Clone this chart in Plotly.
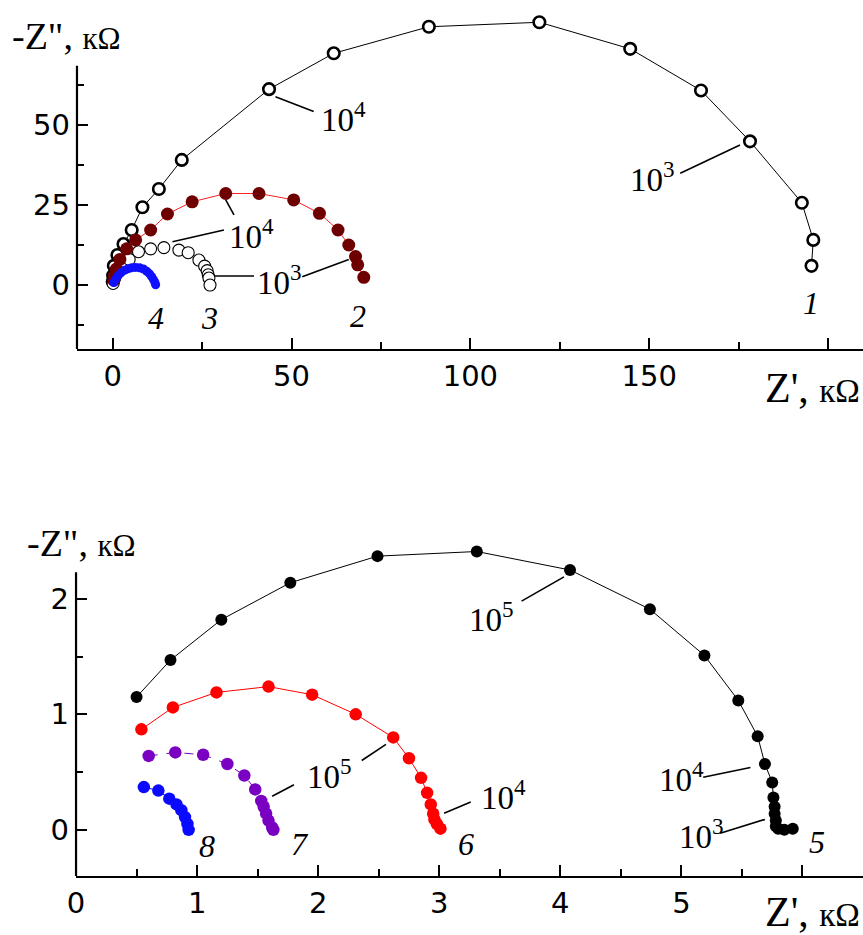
import plotly.graph_objects as go

# ---------------- Top chart data (Z', -Z'' in kOhm) ----------------
s1_x = [0.0, 0.1, 0.3, 1.3, 3.0, 5.3, 8.3, 12.9, 19.3, 43.7, 61.8, 88.4, 119.3, 144.7, 164.5, 178.2, 192.7, 195.9, 195.4]
s1_y = [1.0, 3.0, 6.0, 9.4, 12.8, 17.2, 24.3, 30.0, 39.1, 61.2, 72.4, 80.7, 82.1, 73.8, 60.8, 44.9, 25.7, 14.1, 6.0]

s2_x = [0.3, 0.5, 1.0, 2.0, 3.9, 6.4, 10.6, 15.3, 22.2, 31.6, 40.9, 50.6, 57.8, 63.0, 66.0, 67.9, 68.5, 70.2]
s2_y = [1.5, 3.0, 5.0, 8.0, 11.3, 14.1, 17.2, 22.2, 26.0, 28.6, 28.6, 26.6, 22.4, 17.2, 12.5, 8.9, 6.3, 2.4]

s3_x = [0.1, 0.5, 1.2, 2.6, 4.6, 7.2, 10.6, 14.3, 18.5, 21.1, 24.1, 25.7, 26.4, 26.7, 26.9, 27.2]
s3_y = [0.5, 2.0, 3.8, 6.0, 8.0, 10.4, 11.3, 11.7, 10.9, 10.1, 7.8, 5.9, 4.5, 3.2, 2.2, 0.0]

s4_x = [0.3, 0.8, 1.5, 2.3, 3.3, 4.3, 5.3, 6.4, 7.5, 8.6, 9.5, 10.3, 10.9, 11.4, 11.8, 12.0]
s4_y = [0.8, 1.8, 2.9, 3.8, 4.6, 5.1, 5.4, 5.5, 5.4, 5.0, 4.3, 3.5, 2.6, 1.7, 0.8, 0.1]

# ---------------- Bottom chart data ----------------
s5_x = [0.50, 0.78, 1.20, 1.77, 2.49, 3.31, 4.08, 4.74, 5.19, 5.47, 5.63, 5.69, 5.75, 5.76, 5.77, 5.77, 5.78, 5.78, 5.80, 5.85, 5.92]
s5_y = [1.15, 1.47, 1.82, 2.14, 2.37, 2.41, 2.25, 1.91, 1.51, 1.12, 0.81, 0.57, 0.41, 0.28, 0.20, 0.14, 0.08, 0.03, 0.01, 0.00, 0.01]

s6_x = [0.54, 0.80, 1.16, 1.59, 1.95, 2.31, 2.62, 2.75, 2.85, 2.90, 2.93, 2.95, 2.96, 2.98, 3.01]
s6_y = [0.87, 1.06, 1.19, 1.24, 1.17, 1.00, 0.80, 0.62, 0.45, 0.32, 0.22, 0.14, 0.09, 0.05, 0.01]

s7_x = [0.60, 0.82, 1.05, 1.25, 1.39, 1.48, 1.53, 1.55, 1.57, 1.59, 1.62, 1.63]
s7_y = [0.64, 0.67, 0.65, 0.57, 0.47, 0.35, 0.25, 0.20, 0.14, 0.08, 0.02, 0.00]

s8_x = [0.56, 0.68, 0.77, 0.83, 0.87, 0.90, 0.92, 0.93]
s8_y = [0.37, 0.34, 0.27, 0.22, 0.17, 0.11, 0.05, 0.00]

# axis ticks
top_x_ticks = [0, 50, 100, 150, 200]
top_x_labels = ["0", "50", "100", "150", ""]
top_y_ticks = [0, 25, 50]
top_y_minor = [-12.5, 12.5, 37.5, 62.5]
bot_x_ticks = [0, 1, 2, 3, 4, 5, 6]
bot_x_labels = ["0", "1", "2", "3", "4", "5", ""]
bot_y_ticks = [0, 1, 2]
bot_y_minor = [0.5, 1.5]

# curve numbers
top_num_text = ["1", "2", "3", "4"]
top_num_x = [195.3, 68.7, 27.1, 12.0]
top_num_y = [-5.6, -9.7, -10.3, -10.3]
bot_num_text = ["5", "6", "7", "8"]
bot_num_x = [6.12, 3.22, 1.85, 1.085]
bot_num_y = [-0.107, -0.12, -0.12, -0.136]

# frequency labels (text, x, y) and leader lines (x0, y0, x1, y1)
top_freq_text = ["10<sup>4</sup>", "10<sup>3</sup>", "10<sup>4</sup>", "10<sup>3</sup>"]
top_freq_x = [57.6, 144.2, 32.0, 39.9]
top_freq_y = [52.6, 33.8, 16.1, 1.6]
top_leaders = [(45.5, 58.8, 56.2, 54.2), (158.7, 34.9, 175.4, 43.75),
               (16.7, 13.5, 31.1, 17.2), (31.6, 26.6, 33.9, 21.9),
               (28.3, 2.8, 39.5, 2.8), (53.0, 2.6, 66.0, 8.0)]
bot_freq_text = ["10<sup>5</sup>", "10<sup>4</sup>", "10<sup>3</sup>", "10<sup>4</sup>", "10<sup>5</sup>"]
bot_freq_x = [3.23, 4.80, 4.96, 3.33, 1.89]
bot_freq_y = [1.84, 0.455, -0.035, 0.30, 0.485]
bot_leaders = [(3.68, 1.98, 4.03, 2.19), (5.18, 0.455, 5.57, 0.54),
               (5.32, -0.03, 5.69, 0.09), (3.04, 0.144, 3.26, 0.24),
               (1.62, 0.29, 1.80, 0.39), (2.36, 0.60, 2.56, 0.74)]

SERIF = "Liberation Serif"
SANS = "DejaVu Sans"

fig = go.Figure()

# top traces
fig.add_trace(go.Scatter(x=s1_x, y=s1_y, mode="lines+markers", xaxis="x", yaxis="y",
                         line=dict(color="black", width=1),
                         marker=dict(symbol="circle", size=11.5, color="white",
                                     line=dict(color="black", width=2.6))))
fig.add_trace(go.Scatter(x=s3_x, y=s3_y, mode="markers", xaxis="x", yaxis="y",
                         marker=dict(symbol="circle", size=12, color="white",
                                     line=dict(color="black", width=1.1))))
fig.add_trace(go.Scatter(x=s2_x, y=s2_y, mode="lines+markers", xaxis="x", yaxis="y",
                         line=dict(color="#ff2020", width=1),
                         marker=dict(size=13, color="#6e0000", line=dict(width=0))))
fig.add_trace(go.Scatter(x=s4_x, y=s4_y, mode="lines+markers", xaxis="x", yaxis="y",
                         line=dict(color="#0000ff", width=1),
                         marker=dict(size=9, color="#1010ff", line=dict(width=0))))

# bottom traces
fig.add_trace(go.Scatter(x=s5_x, y=s5_y, mode="lines+markers", xaxis="x2", yaxis="y2",
                         line=dict(color="black", width=1),
                         marker=dict(size=12, color="black", line=dict(width=0))))
fig.add_trace(go.Scatter(x=s6_x, y=s6_y, mode="lines+markers", xaxis="x2", yaxis="y2",
                         line=dict(color="#ff0000", width=1),
                         marker=dict(size=12.5, color="#ff0000", line=dict(width=0))))
fig.add_trace(go.Scatter(x=s7_x, y=s7_y, mode="lines+markers", xaxis="x2", yaxis="y2",
                         line=dict(color="#7a00c2", width=1, dash="dash"),
                         marker=dict(size=12.5, color="#7a00c2", line=dict(width=0))))
fig.add_trace(go.Scatter(x=s8_x, y=s8_y, mode="lines+markers", xaxis="x2", yaxis="y2",
                         line=dict(color="#0000ff", width=1),
                         marker=dict(size=12.5, color="#0a0aff", line=dict(width=0))))

annotations = []
shapes = []
for t, x, y in zip(top_num_text, top_num_x, top_num_y):
    annotations.append(dict(x=x, y=y, xref="x", yref="y", text="<i>" + t + "</i>", showarrow=False,
                            font=dict(family=SERIF, size=32, color="black")))
for t, x, y in zip(bot_num_text, bot_num_x, bot_num_y):
    annotations.append(dict(x=x, y=y, xref="x2", yref="y2", text="<i>" + t + "</i>", showarrow=False,
                            font=dict(family=SERIF, size=32, color="black")))
for t, x, y in zip(top_freq_text, top_freq_x, top_freq_y):
    annotations.append(dict(x=x, y=y, xref="x", yref="y", text=t, showarrow=False,
                            xanchor="left", yanchor="middle",
                            font=dict(family=SERIF, size=33, color="black")))
for t, x, y in zip(bot_freq_text, bot_freq_x, bot_freq_y):
    annotations.append(dict(x=x, y=y, xref="x2", yref="y2", text=t, showarrow=False,
                            xanchor="left", yanchor="middle",
                            font=dict(family=SERIF, size=33, color="black")))
for (x0, y0, x1, y1) in top_leaders:
    shapes.append(dict(type="line", xref="x", yref="y", x0=x0, y0=y0, x1=x1, y1=y1,
                       line=dict(color="black", width=1.6)))
for (x0, y0, x1, y1) in bot_leaders:
    shapes.append(dict(type="line", xref="x2", yref="y2", x0=x0, y0=y0, x1=x1, y1=y1,
                       line=dict(color="black", width=1.6)))

# left axis lines (stop at the top of the frame while markers may rise above it)
shapes.append(dict(type="line", xref="x domain", yref="y", x0=0, x1=0, y0=-20, y1=68.5,
                   line=dict(color="black", width=2.2)))
shapes.append(dict(type="line", xref="x2 domain", yref="y2", x0=0, x1=0, y0=-0.4, y1=2.23,
                   line=dict(color="black", width=2.2)))

ytitle = "-Z\", <span style='font-size:31px'>кΩ</span>"
xtitle = "Z', <span style='font-size:33px'>кΩ</span>"
annotations += [
    dict(x=0.012, y=0.961, xref="paper", yref="paper", text=ytitle, showarrow=False,
         xanchor="left", yanchor="middle", font=dict(family=SERIF, size=38, color="black")),
    dict(x=0.029, y=0.419, xref="paper", yref="paper", text=ytitle, showarrow=False,
         xanchor="left", yanchor="middle", font=dict(family=SERIF, size=38, color="black")),
    dict(x=0.999, y=0.585, xref="paper", yref="paper", text=xtitle, showarrow=False,
         xanchor="right", yanchor="middle", font=dict(family=SERIF, size=42, color="black")),
    dict(x=0.999, y=0.025, xref="paper", yref="paper", text=xtitle, showarrow=False,
         xanchor="right", yanchor="middle", font=dict(family=SERIF, size=42, color="black")),
]

axis_common = dict(showgrid=False, zeroline=False, automargin=False,
                   ticks="inside", ticklen=11, tickwidth=2, tickcolor="black",
                   tickfont=dict(family=SANS, size=29, color="black"))
minor_common = dict(ticks="inside", ticklen=7, tickwidth=2, tickcolor="black")

fig.update_layout(
    width=863, height=935, margin=dict(l=0, r=0, t=0, b=0, pad=0, autoexpand=False),
    paper_bgcolor="white", plot_bgcolor="white", showlegend=False,
    xaxis=dict(domain=[0.0892, 1.0], anchor="y", range=[-10, 209.8],
               showline=True, linecolor="black", linewidth=2.2,
               tickvals=top_x_ticks, ticktext=top_x_labels,
               minor=dict(dtick=25, tick0=0, **minor_common), **axis_common),
    yaxis=dict(domain=[0.6267, 1.0], anchor="x", range=[-20, 89.06], showline=False,
               tickvals=top_y_ticks, ticktext=[str(v) for v in top_y_ticks],
               minor=dict(tickvals=top_y_minor, **minor_common),
               ticklabelstandoff=6, **axis_common),
    xaxis2=dict(domain=[0.0881, 1.0], anchor="y2", range=[0, 6.5],
                showline=True, linecolor="black", linewidth=2.2,
                tickvals=bot_x_ticks, ticktext=bot_x_labels,
                minor=dict(dtick=0.5, tick0=0, **minor_common), **axis_common),
    yaxis2=dict(domain=[0.0631, 0.4866], anchor="x2", range=[-0.4, 3.029], showline=False,
                tickvals=bot_y_ticks, ticktext=[str(v) for v in bot_y_ticks],
                minor=dict(tickvals=bot_y_minor, **minor_common),
                ticklabelstandoff=6, **axis_common),
    annotations=annotations, shapes=shapes,
)

fig.write_html("out.html", config={"displayModeBar": False},
               post_script="document.body.style.margin='0';document.body.style.padding='0';"
                           "document.body.style.overflow='hidden';")
